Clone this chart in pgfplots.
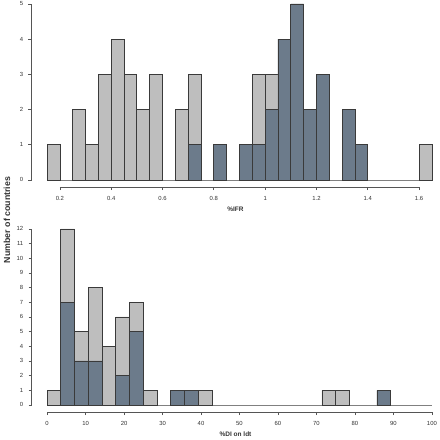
\documentclass[border=0pt]{standalone}
\usepackage{pgfplots}
\pgfplotsset{compat=1.18}
\usepackage{fontspec}
\setmainfont{Liberation Sans}
\definecolor{barlight}{HTML}{BEBEBE}
\definecolor{bardark}{HTML}{6C7B8B}
\definecolor{barline}{HTML}{3A3A3A}
\definecolor{axiscol}{HTML}{555555}
\definecolor{txtcol}{HTML}{333333}
\pgfplotsset{
  rstyle/.style={
    scale only axis, width=415.6pt, height=190.1pt,
    clip=false,
    axis line style={draw=none},
    tick pos=left, tick align=outside,
    major tick length=3.2pt,
    tick style={axiscol, line width=0.7pt},
    /pgf/number format/assume math mode=true,
    ticklabel style={font=\fontsize{5.9}{6.5}\selectfont, text=txtcol},
    xticklabel style={yshift=-2.3pt},
    yticklabel style={xshift=-1.8pt},
    xlabel style={font=\fontsize{6.5}{7.5}\selectfont\bfseries, text=txtcol,
      at={(axis description cs:0.4904,0)}, anchor=center, yshift=-22pt},
  },
  lightbar/.style={ybar, bar shift=0pt, fill=barlight, draw=barline, line width=0.8pt},
  darkbar/.style={ybar, bar shift=0pt, fill=bardark, draw=barline, line width=0.8pt},
}
\begin{document}
\begin{tikzpicture}
\useasboundingbox (0,0) rectangle (440pt,440pt);
% ---------- top panel ----------
\begin{axis}[rstyle,
  at={(31.7pt,253pt)}, anchor=south west,
  xmin=0.09, xmax=1.71, ymin=-0.2, ymax=5.2,
  xtick={0.2,0.4,0.6,0.8,1,1.2,1.4,1.6},
  xticklabels={0.2,0.4,0.6,0.8,1,1.2,1.4,1.6},
  ytick={0,1,2,3,4,5},
  xlabel={\%IFR},
]
\addplot[color=gray, line width=0.8pt] coordinates {(0.15,0) (1.65,0)};
\addplot[lightbar, bar width=0.05] coordinates {
(0.175,1) (0.275,2) (0.325,1) (0.375,3) (0.425,4) (0.475,3) (0.525,2) (0.575,3)
(0.675,2) (0.725,3) (0.825,1) (0.925,1) (0.975,3) (1.025,3) (1.075,4) (1.125,5)
(1.175,2) (1.225,3) (1.325,2) (1.375,1) (1.625,1)};
\addplot[darkbar, bar width=0.05] coordinates {
(0.725,1) (0.825,1) (0.925,1) (0.975,1) (1.025,2) (1.075,4) (1.125,5)
(1.175,2) (1.225,3) (1.325,2) (1.375,1)};
\draw[axiscol, line width=0.7pt] (axis cs:0.2,-0.2) -- (axis cs:1.6,-0.2);
\draw[axiscol, line width=0.7pt] (axis cs:0.09,0) -- (axis cs:0.09,5);
\end{axis}
% ---------- bottom panel ----------
\begin{axis}[rstyle,
  at={(31.7pt,28pt)}, anchor=south west,
  xmin=-4, xmax=104, ymin=-0.48, ymax=12.48,
  xtick={0,10,20,30,40,50,60,70,80,90,100},
  ytick={0,1,2,3,4,5,6,7,8,9,10,11,12},
  xlabel={\%DI on ldt},
]
\addplot[color=gray, line width=0.8pt] coordinates {(0,0) (100,0)};
\addplot[lightbar, bar width=3.5714] coordinates {
(1.7857,1) (5.3571,12) (8.9286,5) (12.5,8) (16.0714,4) (19.6429,6) (23.2143,7)
(26.7857,1) (33.9286,1) (37.5,1) (41.0714,1) (73.2143,1) (76.7857,1) (87.5,1)};
\addplot[darkbar, bar width=3.5714] coordinates {
(5.3571,7) (8.9286,3) (12.5,3) (19.6429,2) (23.2143,5) (33.9286,1) (37.5,1) (87.5,1)};
\draw[axiscol, line width=0.7pt] (axis cs:0,-0.48) -- (axis cs:100,-0.48);
\draw[axiscol, line width=0.7pt] (axis cs:-4,0) -- (axis cs:-4,12);
\end{axis}
\node[rotate=90, font=\fontsize{8.8}{10}\selectfont\bfseries, text=txtcol] at (7pt,220pt) {Number of countries};
\end{tikzpicture}
\end{document}
